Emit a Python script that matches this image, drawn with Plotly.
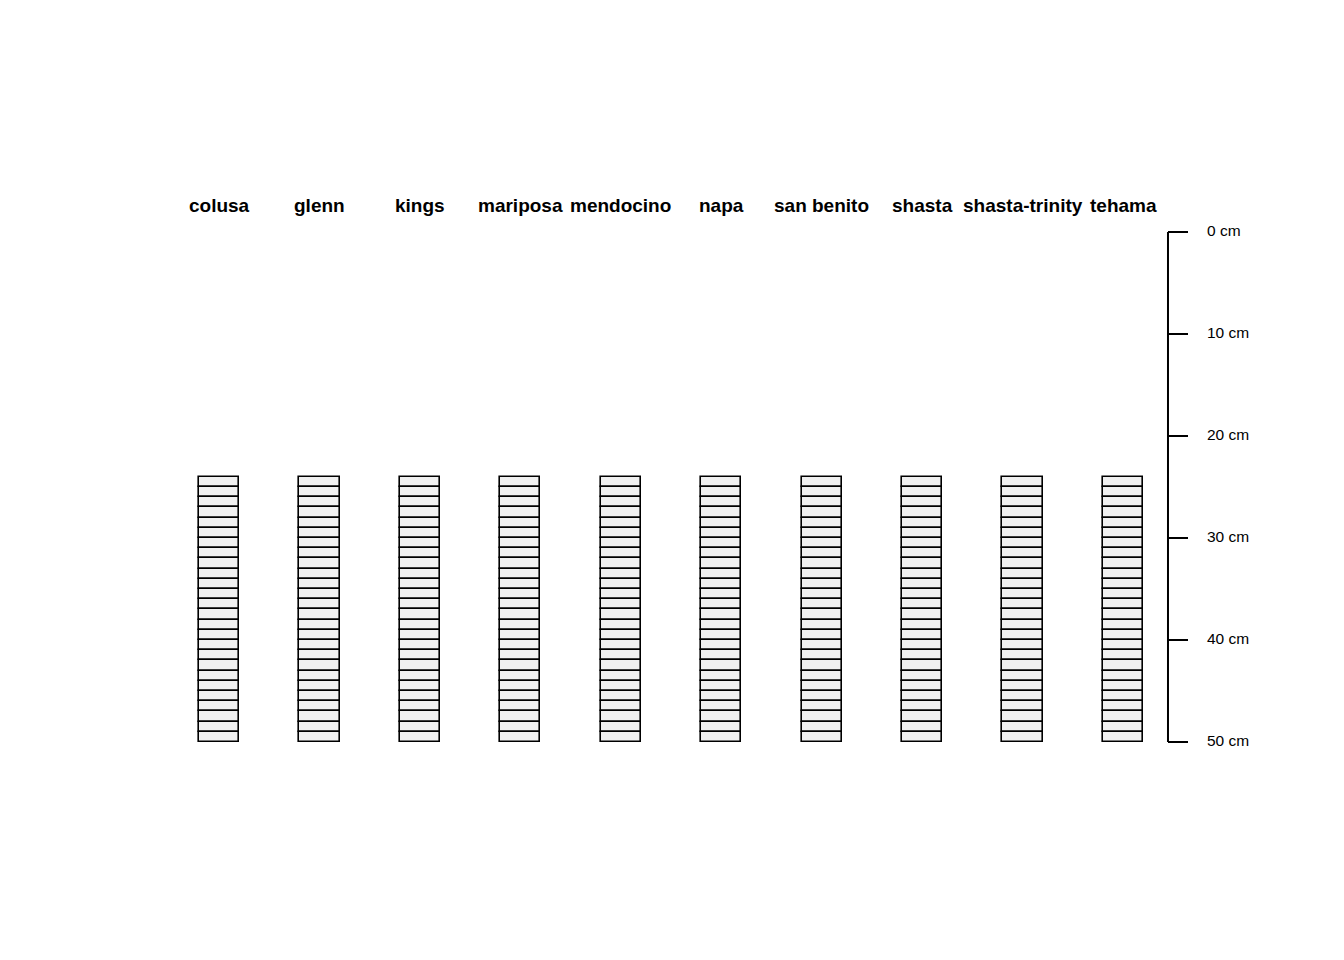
import plotly.graph_objects as go

profiles = ["colusa", "glenn", "kings", "mariposa", "mendocino", "napa",
            "san benito", "shasta", "shasta-trinity", "tehama"]
hz_top = list(range(24, 50))
hz_bottom = list(range(25, 51))
depth_ticks = [0, 10, 20, 30, 40, 50]
depth_labels = ["0 cm", "10 cm", "20 cm", "30 cm", "40 cm", "50 cm"]

fig = go.Figure()

for i, name in enumerate(profiles):
    xpos = i + 1
    fig.add_trace(go.Bar(
        x=[xpos] * len(hz_top),
        y=[b - t for t, b in zip(hz_top, hz_bottom)],
        base=hz_top,
        width=0.4,
        marker=dict(color="#F0F0F0", line=dict(color="black", width=1.6)),
        showlegend=False, hoverinfo="skip",
    ))

# profile names
for i, name in enumerate(profiles):
    fig.add_annotation(x=i + 1, y=-2.55, text="<b>%s</b>" % name, showarrow=False,
                       font=dict(family="Liberation Sans, Arial", size=19, color="black"),
                       xanchor="center", yanchor="middle")

# depth axis
ax_x = 10.448
tick_x2 = 10.647
lab_x = 10.836
fig.add_trace(go.Scatter(x=[ax_x, ax_x], y=[depth_ticks[0], depth_ticks[-1]], mode="lines",
                         line=dict(color="black", width=2), showlegend=False, hoverinfo="skip"))
for d in depth_ticks:
    fig.add_trace(go.Scatter(x=[ax_x, tick_x2], y=[d, d], mode="lines",
                             line=dict(color="black", width=2), showlegend=False, hoverinfo="skip"))
fig.add_trace(go.Scatter(x=[lab_x] * len(depth_ticks), y=depth_ticks, mode="text",
                         text=depth_labels, textposition="middle right",
                         textfont=dict(family="Liberation Sans, Arial", size=15.5, color="black"),
                         showlegend=False, hoverinfo="skip"))

x0 = 1 - 219 / 100.444
x1 = x0 + 1344 / 100.444
y_top = -232 / 10.2
y_bot = y_top + 960 / 10.2

fig.update_layout(
    width=1344, height=960,
    margin=dict(l=0, r=0, t=0, b=0),
    paper_bgcolor="white", plot_bgcolor="white",
    barmode="overlay", bargap=0,
    xaxis=dict(range=[x0, x1], visible=False, fixedrange=True),
    yaxis=dict(range=[y_bot, y_top], visible=False, fixedrange=True),
)

fig.write_html("out.html")
